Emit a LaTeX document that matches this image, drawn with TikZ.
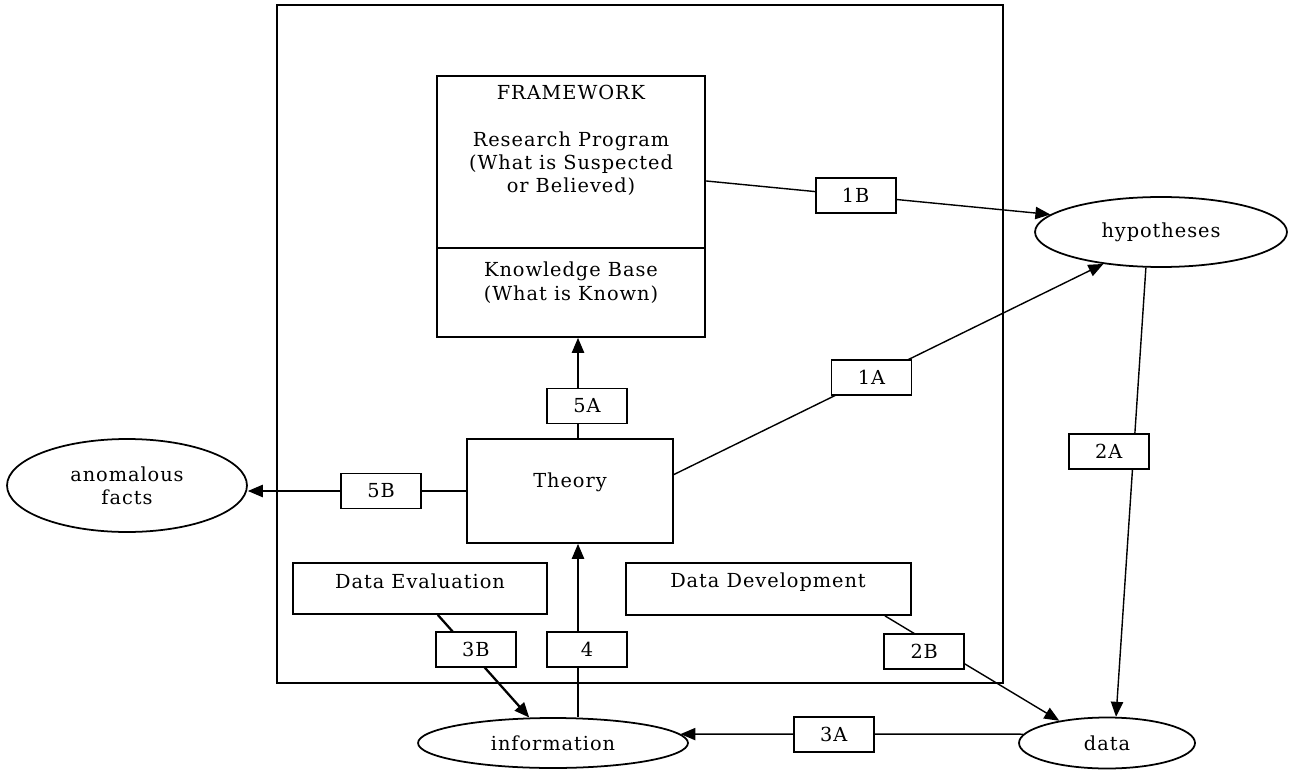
\documentclass[tikz,border=0pt]{standalone}
\usepackage{fontspec}
\setmainfont{DejaVu Serif}[LetterSpace=5]
\usetikzlibrary{shapes.geometric, arrows.meta}
\tikzstyle{box} = [
    rectangle,
    draw=black,
    line width=1pt,
    inner sep=0pt
]
\tikzstyle{oval} = [
    ellipse,
    draw=black,
    line width=1pt,
    inner sep=0pt,
    align=center
]
\tikzstyle{lbl} = [
    rectangle,
    draw=black,
    fill=white,
    line width=1pt,
    minimum width=1.6cm,
    minimum height=0.7cm,
    inner sep=0pt
]
\tikzstyle{txt} = [
    align=center,
    inner sep=0pt
]
\tikzstyle{flow} = [
    line width=0.8pt,
    -{Triangle[length=8.5pt, width=7pt]}
]

\begin{document}
\begin{tikzpicture}[x=0.02cm, y=-0.02cm, font=\fontsize{11}{13.3}\selectfont]
        \useasboundingbox (0,0) rectangle (1291,770);
        % outer frame
        \node (frame) [box, minimum width=14.52cm, minimum height=13.56cm] at (640,344) {};
        % framework
        \node (fwtop) [box, minimum width=5.36cm, minimum height=3.44cm] at (571,162) {};
        \node (fwbot) [box, minimum width=5.36cm, minimum height=1.78cm] at (571,292.5) {};
        \node (fwtxt) [txt] at (571,140.5) {FRAMEWORK\\[13.3pt]Research Program\\(What is Suspected\\or Believed)};
        \node (kbtxt) [txt] at (571,282.5) {Knowledge Base\\(What is Known)};
        % theory and data boxes
        \node (theory) [box, minimum width=4.12cm, minimum height=2.08cm] at (570,491) {};
        \node (thtxt) [txt] at (570,482) {Theory};
        \node (deval) [box, minimum width=5.08cm, minimum height=1.02cm] at (420,588.5) {};
        \node (detxt) [txt] at (420,581) {Data Evaluation};
        \node (ddev) [box, minimum width=5.70cm, minimum height=1.04cm] at (768.5,589) {};
        \node (ddtxt) [txt] at (768,582) {Data Development};
        % ovals
        \node (hyp) [oval, minimum width=5.04cm, minimum height=1.40cm] at (1161,232) {hypotheses};
        \node (data) [oval, minimum width=3.52cm, minimum height=1.02cm] at (1107,743) {data};
        \node (info) [oval, minimum width=5.40cm, minimum height=1.00cm] at (553,743) {information};
        \node (anom) [oval, minimum width=4.80cm, minimum height=1.86cm] at (127,485.5) {anomalous\\facts};

        \coordinate (vx) at (578,0);

        \draw[flow] (fwtop.-8) -- node[lbl, pos=0.435] (n1b) {1B} (hyp.171);
        \draw[flow] (theory.9) -- node[lbl, pos=0.46] (n1a) {1A} (hyp.209);
        \draw[flow] (hyp.247) -- node[lbl, pos=0.41, xshift=-0.5cm] (n2a) {2A} (data.71);
        \draw[flow] (ddev.-13) -- node[lbl, pos=0.34, xshift=-0.4cm] (n2b) {2B} (data.155);
        \draw[flow] (data.174) -- node[lbl, pos=0.553] (n3a) {3A} (info.4);
        \draw[flow, line width=1.3pt] (deval.-56) -- node[lbl, pos=0.34, xshift=0.14cm] (n3b) {3B} (info.133);
        \draw[flow] (info.north -| vx) -- node[lbl, pos=0.39, xshift=0.18cm] (n4) {4} (theory.south -| vx);
        \draw[flow] (theory.north -| vx) -- node[lbl, pos=0.32, xshift=0.18cm] (n5a) {5A} (fwbot.south -| vx);
        \draw[flow] (theory.west) -- node[lbl, pos=0.39] (n5b) {5B} (anom.east |- theory.west);
    \end{tikzpicture}
\end{document}
